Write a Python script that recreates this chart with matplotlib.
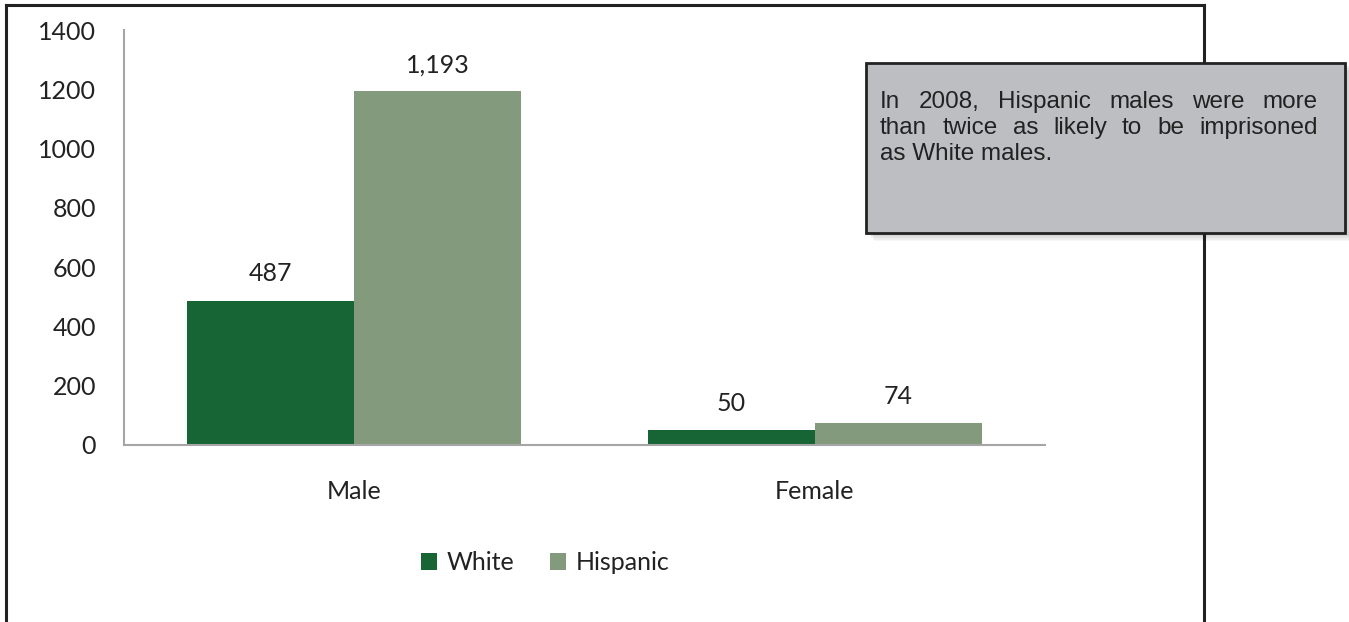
import matplotlib
matplotlib.use("Agg")
import matplotlib.pyplot as plt
import numpy as np
from matplotlib.patches import Rectangle
from matplotlib.lines import Line2D

# data
categories = ["Male", "Female"]
white = [487, 50]
hispanic = [1193, 74]
labels_white = ["487", "50"]
labels_hispanic = ["1,193", "74"]
yticks = [0, 200, 400, 600, 800, 1000, 1200, 1400]
note_lines = [
    "In 2008, Hispanic males were more",
    "than twice as likely to be imprisoned",
    "as White males.",
]

C_WHITE = "#176434"
C_HISP = "#839B7C"
TXT = "#222222"

plt.rcParams['font.family'] = ['Lato', 'DejaVu Sans']

W, H = 1349, 622
fig = plt.figure(figsize=(W / 100, H / 100), dpi=100)

def fx(px):
    return px / W

def fy(py):
    return 1 - py / H

ax = fig.add_axes([fx(124), fy(445), fx(1045) - fx(124), fy(30) - fy(445)])

x = np.arange(len(categories))
bw = 0.3625
ax.bar(x - bw / 2, white, bw, color=C_WHITE, label="White")
ax.bar(x + bw / 2, hispanic, bw, color=C_HISP, label="Hispanic")

for xi, v, s in zip(x, white, labels_white):
    ax.annotate(s, (xi - bw / 2, v), xytext=(0, 11), textcoords="offset points",
                ha="center", va="bottom", fontsize=18, color=TXT)
for xi, v, s in zip(x, hispanic, labels_hispanic):
    ax.annotate(s, (xi + bw / 2, v), xytext=(0, 11), textcoords="offset points",
                ha="center", va="bottom", fontsize=18, color=TXT)

ax.set_xlim(-0.5, 1.5)
ax.set_ylim(0, 1400)
ax.set_yticks(yticks)
ax.set_yticklabels([str(t) for t in yticks], fontsize=18, color=TXT)
ax.set_xticks(x)
ax.set_xticklabels(categories, fontsize=18, color=TXT)
ax.tick_params(axis="y", length=0, pad=20)
ax.tick_params(axis="x", length=0, pad=25)
for side in ["top", "right"]:
    ax.spines[side].set_visible(False)
for side in ["left", "bottom"]:
    ax.spines[side].set_color("#a6a6a6")
    ax.spines[side].set_linewidth(1.5)

leg = fig.legend(loc="center", bbox_to_anchor=(fx(545), fy(563)), ncol=2, frameon=False,
                 fontsize=18, handlelength=0.65, handleheight=0.65, handletextpad=0.4,
                 columnspacing=1.4)
for t in leg.get_texts():
    t.set_color(TXT)

# outer frame (bottom edge is cropped off)
for xs, ys in [((6, 6), (5, 640)), ((6, 1204), (5, 5)), ((1204, 1204), (5, 640))]:
    fig.add_artist(Line2D([fx(a) for a in xs], [fy(b) for b in ys], color=TXT, lw=2.2, zorder=1))

# note box with soft shadow
bx0, by0, bx1, by1 = 866, 63, 1345, 233
for i, a in enumerate([0.07, 0.06, 0.05, 0.04, 0.03]):
    off = 2 + i * 1.5
    fig.add_artist(Rectangle((fx(bx0 + off), fy(by1 + off)), fx(bx1 - bx0), fy(by0) - fy(by1),
                             facecolor="black", edgecolor="none", alpha=a, zorder=5))
fig.add_artist(Rectangle((fx(bx0), fy(by1)), fx(bx1 - bx0), fy(by0) - fy(by1),
                         facecolor="#bdbec2", edgecolor=TXT, lw=2, zorder=6))

# justified note text
fig.canvas.draw()
renderer = fig.canvas.get_renderer()
left, right = 880, 1318
line_y = [108, 134, 160]
fp = dict(fontsize=17.5, family=['Liberation Sans', 'DejaVu Sans'], color=TXT, zorder=7)
for k, (line, yy) in enumerate(zip(note_lines, line_y)):
    words = line.split()
    if k == len(note_lines) - 1:
        fig.text(fx(left), fy(yy), line, va="baseline", ha="left", **fp)
        continue
    arts = [fig.text(0, fy(yy), w, va="baseline", ha="left", **fp) for w in words]
    widths = [a.get_window_extent(renderer).width for a in arts]
    gap = (right - left - sum(widths)) / (len(words) - 1)
    pos = left
    for a, w in zip(arts, widths):
        a.set_x(fx(pos))
        pos += w + gap

fig.savefig("out.png", dpi=100)
